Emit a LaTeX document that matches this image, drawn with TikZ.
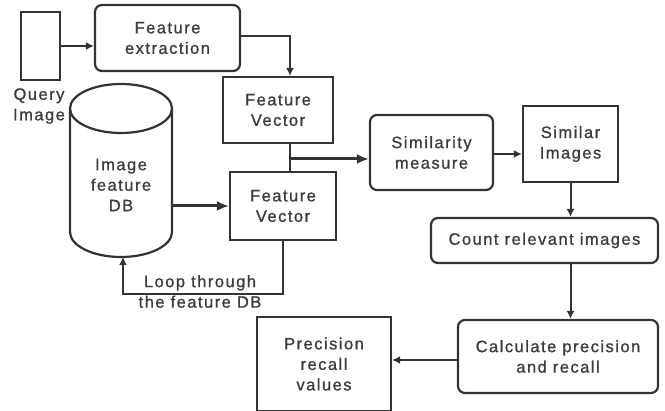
\documentclass[tikz,border=0pt]{standalone}
\usepackage{fontspec}
\setmainfont[LetterSpace=9,FakeBold=1]{Liberation Sans}
\usetikzlibrary{arrows.meta}
\definecolor{ink}{HTML}{333333}
\definecolor{txt}{HTML}{3C3C3C}
\begin{document}
\begin{tikzpicture}[x=1pt,y=-1pt,
  every node/.style={font=\fontsize{16.5}{20.5}\selectfont, text=txt, align=center, inner sep=0pt},
  box/.style={draw=ink, line width=2.2pt, rectangle},
  rbox/.style={box, rounded corners=7pt},
  conn/.style={draw=ink, line width=2pt, -{Latex[length=8pt,width=8pt]}},
  thickconn/.style={draw=ink, line width=3pt, -{Latex[length=12pt,width=10pt]}},
  plain/.style={draw=ink, line width=2pt}]
\useasboundingbox (0,0) rectangle (665,411);
% nodes
\node[box, minimum width=39pt, minimum height=68pt] (qimg) at (40.5,46) {};
\node (qlabel) at (39,106) {Query\\Image};
\node[rbox, minimum width=145pt, minimum height=66pt] (fe) at (167.5,38) {Feature\\extraction};
\node[box, minimum width=110pt, minimum height=66pt] (fv1) at (278,110) {Feature\\Vector};
\node[box, minimum width=106pt, minimum height=68pt] (fv2) at (283,206) {Feature\\Vector};
% database cylinder
\draw[draw=ink, line width=2.2pt] (121,108.5) ellipse [x radius=51pt, y radius=24.5pt];
\draw[draw=ink, line width=2.2pt] (70,108.5) -- (70,232) arc [start angle=180, end angle=360, x radius=51pt, y radius=25pt] -- (172,108.5);
\node (dbtext) at (121,185) {Image\\feature\\DB};
\coordinate (dbright) at (172,206);
\coordinate (dbbottom) at (123,257);
\node[rbox, minimum width=123pt, minimum height=75pt] (sim) at (431.5,152.5) {Similarity\\measure};
\node[box, minimum width=95pt, minimum height=76pt] (simimg) at (570.5,144) {Similar\\Images};
\node[rbox, minimum width=227pt, minimum height=45pt] (count) at (544.5,240.5) {Count relevant images};
\node[rbox, minimum width=200pt, minimum height=73pt] (calc) at (558,356.5) {Calculate precision\\and recall};
\node[box, minimum width=134pt, minimum height=94pt] (pr) at (324,364) {Precision\\recall\\values};
\node (looplabel) at (200,291.5) {Loop through\\the feature DB};
\coordinate (jn) at (290,159);
\coordinate (loopcorner) at (283,294);
% connectors
\draw[conn] (qimg.east) -- (fe.west |- qimg.east);
\draw[conn] (fe.east |- 0,36) -| (fv1.north -| jn);
\draw[thickconn] (dbright) -- (fv2.west |- dbright);
\draw[plain] (fv1.south -| jn) -- (fv2.north -| jn);
\draw[thickconn] (jn) -- (jn -| sim.west);
\draw[conn] (sim.east |- 0,154) -- (simimg.west |- 0,154);
\draw[conn] (simimg.south) -- (simimg.south |- count.north);
\draw[conn] (simimg.south |- count.south) -- (simimg.south |- calc.north);
\draw[conn] (calc.west |- 0,360) -- (pr.east |- 0,360);
\draw[conn] (fv2.south) -- (loopcorner) -| (dbbottom);
\end{tikzpicture}
\end{document}
